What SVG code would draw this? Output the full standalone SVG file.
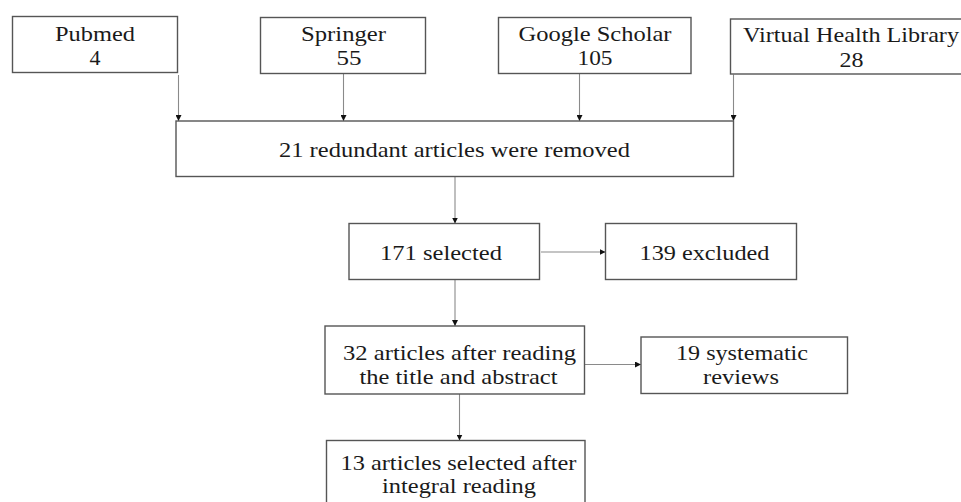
<svg xmlns="http://www.w3.org/2000/svg" width="961" height="502" viewBox="0 0 961 502">
<style>
.box{fill:#fff;stroke:#555;stroke-width:1.4}
.t{font-family:'Liberation Serif','DejaVu Serif','Times New Roman',serif;font-size:22px;fill:#1a1a1a;text-anchor:middle}
.c{stroke:#8a8a8a;stroke-width:1.1;fill:none;marker-end:url(#ah)}
</style>
<defs>
<marker id="ah" viewBox="0 0 10 10" refX="10" refY="5" markerWidth="6" markerHeight="6" markerUnits="userSpaceOnUse" orient="auto">
<path d="M0,0 L10,5 L0,10 Z" fill="#111"/>
</marker>
</defs>
<rect width="961" height="502" fill="#fff"/>
<g id="connectors">
<line class="c" x1="178.5" y1="75" x2="178.5" y2="121"/>
<line class="c" x1="343.5" y1="73.5" x2="343.5" y2="121"/>
<line class="c" x1="579.5" y1="73.5" x2="579.5" y2="121"/>
<line class="c" x1="733.5" y1="74.5" x2="733.5" y2="121"/>
<line class="c" x1="455" y1="177" x2="455" y2="223.5"/>
<line class="c" x1="541" y1="252" x2="605.5" y2="252"/>
<line class="c" x1="455" y1="280" x2="455" y2="326"/>
<line class="c" x1="580" y1="364.5" x2="641" y2="364.5"/>
<line class="c" x1="459.5" y1="394" x2="459.5" y2="440.5"/>
</g>
<g font-family="Liberation Serif, DejaVu Serif, serif">
<g id="pubmed">
<rect class="box" x="12.5" y="16.5" width="165" height="56"/>
<text class="t" x="95" y="41" textLength="80" lengthAdjust="spacingAndGlyphs">Pubmed</text>
<text class="t" x="95" y="65">4</text>
</g>
<g id="springer">
<rect class="box" x="260.5" y="17.5" width="165" height="56"/>
<text class="t" x="343.5" y="41" textLength="85" lengthAdjust="spacingAndGlyphs">Springer</text>
<text class="t" x="349" y="65" textLength="25" lengthAdjust="spacingAndGlyphs">55</text>
</g>
<g id="google">
<rect class="box" x="498.5" y="17.5" width="192.5" height="56"/>
<text class="t" x="595" y="41" textLength="153" lengthAdjust="spacingAndGlyphs">Google Scholar</text>
<text class="t" x="595" y="65" textLength="35" lengthAdjust="spacingAndGlyphs">105</text>
</g>
<g id="vhl">
<rect class="box" x="730.5" y="19" width="240" height="55"/>
<text class="t" x="851" y="42" textLength="216" lengthAdjust="spacingAndGlyphs">Virtual Health Library</text>
<text class="t" x="851.5" y="66.5" textLength="24" lengthAdjust="spacingAndGlyphs">28</text>
</g>
<g id="redundant">
<rect class="box" x="176" y="121" width="557.5" height="55.5"/>
<text class="t" x="454.5" y="157" textLength="351" lengthAdjust="spacingAndGlyphs">21 redundant articles were removed</text>
</g>
<g id="selected">
<rect class="box" x="349" y="223.5" width="190.5" height="56"/>
<text class="t" x="441" y="260" textLength="122" lengthAdjust="spacingAndGlyphs">171 selected</text>
</g>
<g id="excluded">
<rect class="box" x="605.5" y="223.5" width="191" height="56"/>
<text class="t" x="704.5" y="260" textLength="130" lengthAdjust="spacingAndGlyphs">139 excluded</text>
</g>
<g id="title-abstract">
<rect class="box" x="325" y="326" width="259.5" height="68"/>
<text class="t" x="459.5" y="359.5" textLength="233" lengthAdjust="spacingAndGlyphs">32 articles after reading</text>
<text class="t" x="458.5" y="383.5" textLength="198" lengthAdjust="spacingAndGlyphs">the title and abstract</text>
</g>
<g id="systematic">
<rect class="box" x="641" y="337" width="206.5" height="56.5"/>
<text class="t" x="742" y="359.5" textLength="132" lengthAdjust="spacingAndGlyphs">19 systematic</text>
<text class="t" x="741" y="383.5" textLength="76" lengthAdjust="spacingAndGlyphs">reviews</text>
</g>
<g id="integral">
<rect class="box" x="326.5" y="440.5" width="258.5" height="70"/>
<text class="t" x="458.5" y="469.5" textLength="236" lengthAdjust="spacingAndGlyphs">13 articles selected after</text>
<text class="t" x="459" y="493" textLength="154" lengthAdjust="spacingAndGlyphs">integral reading</text>
</g>
</g>
</svg>
